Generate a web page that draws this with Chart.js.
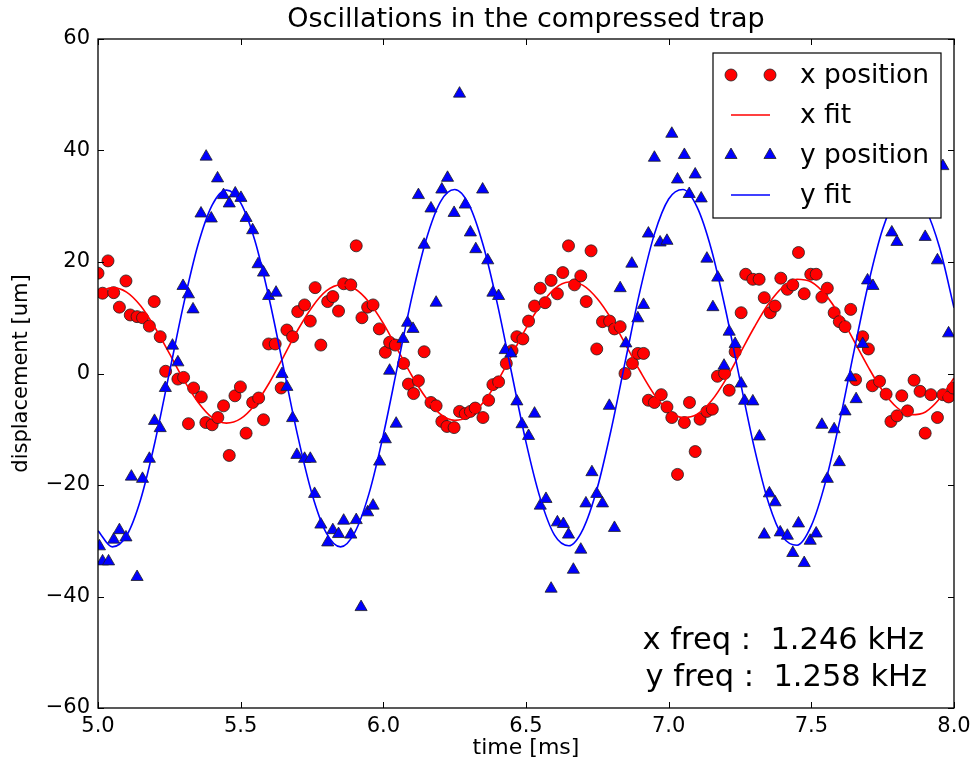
<!DOCTYPE html>
<html>
<head>
<meta charset="utf-8">
<title>Oscillations in the compressed trap</title>
<script src="https://cdn.jsdelivr.net/npm/chart.js@4.4.1/dist/chart.umd.min.js"></script>
<style>
  html, body { margin: 0; padding: 0; background: #fff; }
  #myChart { display: block; }
</style>
</head>
<body>
<canvas id="myChart" width="974" height="761"></canvas>
<script>
// measured x position of the cloud (time in ms, displacement in um)
var xPosTime = [5.000,5.016,5.035,5.055,5.075,5.098,5.113,5.137,5.156,5.180,
  5.197,5.218,5.237,5.280,5.300,5.317,5.335,5.362,5.378,5.400,
  5.420,5.440,5.460,5.480,5.499,5.519,5.542,5.563,5.580,5.598,
  5.621,5.642,5.662,5.682,5.700,5.724,5.744,5.761,5.781,5.805,
  5.823,5.843,5.861,5.886,5.905,5.925,5.945,5.964,5.986,6.007,
  6.022,6.042,6.071,6.088,6.106,6.123,6.143,6.167,6.185,6.205,
  6.223,6.248,6.267,6.287,6.305,6.322,6.349,6.369,6.384,6.404,
  6.431,6.451,6.468,6.489,6.509,6.530,6.550,6.567,6.588,6.610,
  6.629,6.649,6.670,6.692,6.711,6.728,6.748,6.768,6.793,6.810,
  6.830,6.847,6.873,6.892,6.912,6.929,6.950,6.974,6.994,7.011,
  7.031,7.055,7.073,7.093,7.110,7.134,7.153,7.171,7.196,7.212,
  7.233,7.254,7.270,7.295,7.317,7.335,7.356,7.373,7.393,7.416,
  7.435,7.455,7.475,7.498,7.517,7.537,7.556,7.580,7.598,7.618,
  7.638,7.655,7.680,7.700,7.714,7.739,7.762,7.779,7.800,7.817,
  7.837,7.860,7.881,7.899,7.919,7.942,7.961,7.981,7.997];
var xPosVal = [18.0,14.4,20.2,14.5,11.9,16.6,10.5,10.2,10.0,8.5,
  12.9,6.6,0.4,-1.0,-0.7,-9.0,-2.6,-4.2,-8.8,-9.2,
  -7.9,-5.8,-14.7,-4.0,-2.4,-10.7,-5.2,-4.4,-8.3,5.3,
  5.3,-2.6,7.8,6.6,11.1,12.3,9.4,15.4,5.1,12.9,
  13.8,11.2,16.1,15.9,22.9,10.0,11.9,12.3,8.0,3.8,
  5.6,5.1,1.8,-1.9,-3.6,-1.3,3.9,-5.2,-5.8,-8.6,
  -9.5,-9.7,-6.8,-7.2,-6.8,-6.2,-7.9,-4.8,-2.0,-1.5,
  1.8,4.1,6.6,6.2,9.4,12.1,15.3,12.7,16.7,14.3,
  18.1,22.9,15.9,17.5,12.9,22.0,4.4,9.3,9.4,8.0,
  8.4,0.0,1.8,3.6,3.6,-4.8,-5.2,-3.8,-6.0,-7.9,
  -18.1,-8.8,-5.2,-14.0,-8.2,-6.8,-6.4,-0.5,0.0,-3.0,
  3.9,10.9,17.8,16.9,16.9,13.6,10.9,12.1,17.1,15.1,
  15.9,21.7,14.3,17.8,17.8,13.7,15.3,10.9,9.3,8.4,
  11.5,-1.1,6.6,4.4,-2.2,-1.4,-3.7,-8.6,-7.6,-4.0,
  -6.7,-1.2,-3.2,-10.7,-3.8,-7.9,-3.8,-4.2,-2.6];

// measured y position
var yPosTime = [5.005,5.016,5.037,5.055,5.075,5.098,5.117,5.137,5.156,5.180,
  5.198,5.218,5.236,5.261,5.280,5.298,5.317,5.333,5.361,5.379,
  5.397,5.419,5.440,5.460,5.481,5.501,5.519,5.542,5.561,5.580,
  5.598,5.624,5.645,5.662,5.682,5.697,5.724,5.744,5.759,5.781,
  5.805,5.823,5.843,5.861,5.886,5.905,5.922,5.945,5.964,5.987,
  6.007,6.022,6.045,6.069,6.085,6.104,6.123,6.143,6.167,6.185,
  6.205,6.225,6.248,6.267,6.287,6.305,6.324,6.348,6.366,6.384,
  6.404,6.427,6.447,6.468,6.486,6.509,6.530,6.550,6.570,6.588,
  6.610,6.631,6.649,6.666,6.692,6.710,6.731,6.748,6.768,6.792,
  6.810,6.830,6.850,6.871,6.892,6.912,6.929,6.950,6.970,6.994,
  7.011,7.031,7.055,7.072,7.093,7.114,7.134,7.155,7.172,7.194,
  7.212,7.233,7.254,7.266,7.295,7.318,7.335,7.353,7.373,7.391,
  7.416,7.435,7.455,7.475,7.496,7.517,7.537,7.556,7.580,7.598,
  7.618,7.638,7.657,7.680,7.697,7.716,7.782,7.800,7.899,7.942,
  7.961,7.981];
var yPosVal = [-31.0,-33.7,-33.7,-29.8,-28.1,-29.4,-18.5,-36.5,-18.9,-15.3,
  -8.5,-9.8,-2.6,5.0,2.0,15.7,14.2,11.5,28.7,38.9,
  27.8,35.0,32.0,30.5,32.3,31.5,27.9,25.7,19.6,18.1,
  13.9,14.5,-0.1,-2.4,-8.0,-14.6,-15.3,-15.3,-21.6,-27.1,
  -30.3,-28.1,-28.8,-26.4,-28.9,-26.3,-41.9,-24.9,-23.7,-15.8,
  -11.8,0.5,-9.0,6.2,9.1,8.0,32.0,23.1,29.6,12.7,
  33.0,35.1,28.8,50.2,30.3,25.3,22.3,33.0,20.3,14.5,
  13.9,4.2,3.6,-5.0,-9.1,-11.2,-7.2,-23.7,-22.5,-38.6,
  -26.7,-27.0,-28.9,-35.2,-31.6,-23.3,-17.7,-21.6,-23.3,-5.8,
  -27.7,15.3,5.4,19.7,9.9,12.3,25.1,38.7,23.5,23.8,
  43.0,34.8,39.2,32.2,35.7,31.4,20.6,11.9,17.2,1.4,
  7.5,5.3,-1.8,-4.9,-5.0,-11.3,-28.9,-21.5,-23.1,-28.5,
  -29.1,-32.2,-26.9,-34.0,-30.0,-28.7,-9.2,-18.9,-10.0,-15.9,
  -6.8,-0.7,-4.6,5.3,16.7,15.7,25.3,23.6,24.5,20.3,
  37.2,7.2];

// fitted curves, read every 0.05 ms
var fitTime = [5.00,5.05,5.10,5.15,5.20,5.25,5.30,5.35,5.40,5.45,
  5.50,5.55,5.60,5.65,5.70,5.75,5.80,5.85,5.90,5.95,
  6.00,6.05,6.10,6.15,6.20,6.25,6.30,6.35,6.40,6.45,
  6.50,6.55,6.60,6.65,6.70,6.75,6.80,6.85,6.90,6.95,
  7.00,7.05,7.10,7.15,7.20,7.25,7.30,7.35,7.40,7.45,
  7.50,7.55,7.60,7.65,7.70,7.75,7.80,7.85,7.90,7.95,
  8.00];
var xFitVal = [14.4,15.4,14.6,12.1,8.2,3.6,-1.1,-5.1,-7.9,-8.9,
  -8.1,-5.6,-1.7,3.0,7.8,11.9,14.8,15.9,15.2,12.8,
  9.0,4.3,-0.4,-4.4,-7.3,-8.4,-7.7,-5.2,-1.4,3.3,
  8.1,12.2,15.2,16.4,15.8,13.4,9.7,5.1,0.4,-3.8,
  -6.7,-7.9,-7.3,-4.9,-1.1,3.6,8.3,12.5,15.5,16.9,
  16.4,14.1,10.4,5.8,1.1,-3.1,-6.1,-7.4,-6.9,-4.5,
  -0.8];
var yFitVal = [-28.2,-31.1,-29.1,-22.5,-12.2,0.1,12.4,23.0,30.2,32.9,
  30.6,23.8,13.4,1.1,-11.2,-21.6,-28.6,-31.1,-28.5,-21.5,
  -11.0,1.4,13.7,24.0,30.8,33.0,30.3,23.0,12.4,0.0,
  -12.3,-22.4,-29.0,-30.9,-27.9,-20.5,-9.7,2.7,14.9,25.0,
  31.3,33.0,29.8,22.2,11.3,-1.2,-13.3,-23.2,-29.3,-30.8,
  -27.3,-19.4,-8.4,4.1,16.1,25.9,31.8,33.0,29.6,22.5,
  11.8];

var xTicks = [5.0, 5.5, 6.0, 6.5, 7.0, 7.5, 8.0];
var yTicks = [-60, -40, -20, 0, 20, 40, 60];
var freqLines = ['x freq :  1.246 kHz', 'y freq :  1.258 kHz'];

var FONT = "'DejaVu Sans', 'Bitstream Vera Sans', sans-serif";

function pairs(t, v){
  var out = [];
  for(var i=0;i<t.length;i++){
    out.push({x: t[i], y: v[i]});
  }
  return out;
}

function markerPath(ctx, style, x, y, r){
  ctx.beginPath();
  if(style === 'triangle'){
    ctx.moveTo(x, y - r);
    ctx.lineTo(x + r * 0.866, y + r * 0.5);
    ctx.lineTo(x - r * 0.866, y + r * 0.5);
    ctx.closePath();
  } else {
    ctx.arc(x, y, r, 0, Math.PI * 2);
  }
}

// frame, inward ticks, title, legend box and the frequency note
var decor = {
  id: 'decor',
  afterDatasetsDraw: function(chart){
    var ctx = chart.ctx;
    var a = chart.chartArea;
    var xs = chart.scales.x;
    var ys = chart.scales.y;
    ctx.save();

    ctx.strokeStyle = '#000';
    ctx.lineWidth = 1;
    ctx.beginPath();
    xTicks.forEach(function(v){
      var px = Math.round(xs.getPixelForValue(v)) + 0.5;
      ctx.moveTo(px, a.bottom); ctx.lineTo(px, a.bottom - 6);
      ctx.moveTo(px, a.top); ctx.lineTo(px, a.top + 6);
    });
    yTicks.forEach(function(v){
      var py = Math.round(ys.getPixelForValue(v)) + 0.5;
      ctx.moveTo(a.left, py); ctx.lineTo(a.left + 6, py);
      ctx.moveTo(a.right, py); ctx.lineTo(a.right - 6, py);
    });
    ctx.stroke();

    ctx.lineWidth = 1.3;
    ctx.strokeRect(a.left, a.top, a.right - a.left, a.bottom - a.top);

    // title
    ctx.fillStyle = '#000';
    ctx.font = '27px ' + FONT;
    ctx.textAlign = 'center';
    ctx.textBaseline = 'middle';
    ctx.fillText('Oscillations in the compressed trap', (a.left + a.right) / 2, 20);

    // legend
    var bx = a.right - 241, by = a.top + 14, bw = 228, bh = 165;
    ctx.fillStyle = '#fff';
    ctx.fillRect(bx, by, bw, bh);
    ctx.lineWidth = 1.2;
    ctx.strokeStyle = '#000';
    ctx.strokeRect(bx, by, bw, bh);
    ctx.font = '26.5px ' + FONT;
    ctx.textAlign = 'left';
    chart.data.datasets.forEach(function(ds, i){
      var rowY = by + 22 + i * 40;
      var x1 = bx + 18, x2 = bx + 57;
      if(ds.showLine){
        ctx.strokeStyle = ds.borderColor;
        ctx.lineWidth = ds.borderWidth;
        ctx.beginPath();
        ctx.moveTo(x1, rowY);
        ctx.lineTo(x2, rowY);
        ctx.stroke();
      } else {
        [x1, x2].forEach(function(mx){
          markerPath(ctx, ds.pointStyle, mx, rowY, ds.pointRadius);
          ctx.fillStyle = ds.pointBackgroundColor;
          ctx.fill();
          ctx.strokeStyle = ds.pointBorderColor;
          ctx.lineWidth = ds.pointBorderWidth;
          ctx.stroke();
        });
      }
      ctx.fillStyle = '#000';
      ctx.fillText(ds.label, bx + 87, rowY + 1);
    });

    // fitted frequencies
    ctx.font = '30.5px ' + FONT;
    ctx.textAlign = 'right';
    ctx.fillStyle = '#000';
    ctx.fillText(freqLines[0], a.right - 30, a.bottom - 67);
    ctx.fillText(freqLines[1], a.right - 27, a.bottom - 30);

    ctx.restore();
  }
};

var ctx = document.getElementById('myChart').getContext('2d');
var myChart = new Chart(ctx, {
  type: 'scatter',
  data: {
    datasets: [{
      label: 'x position',
      data: pairs(xPosTime, xPosVal),
      showLine: false,
      pointStyle: 'circle',
      pointRadius: 6,
      pointBackgroundColor: '#ff0000',
      pointBorderColor: '#202020',
      pointBorderWidth: 0.8,
      order: 4,
      clip: 0
    }, {
      label: 'x fit',
      data: pairs(fitTime, xFitVal),
      showLine: true,
      pointRadius: 0,
      borderColor: '#ff0000',
      borderWidth: 1.6,
      cubicInterpolationMode: 'monotone',
      order: 3,
      clip: 0
    }, {
      label: 'y position',
      data: pairs(yPosTime, yPosVal),
      showLine: false,
      pointStyle: 'triangle',
      pointRadius: 7,
      pointBackgroundColor: '#0000ff',
      pointBorderColor: '#202020',
      pointBorderWidth: 0.8,
      order: 2,
      clip: 0
    }, {
      label: 'y fit',
      data: pairs(fitTime, yFitVal),
      showLine: true,
      pointRadius: 0,
      borderColor: '#0000ff',
      borderWidth: 1.6,
      cubicInterpolationMode: 'monotone',
      order: 1,
      clip: 0
    }]
  },
  options: {
    responsive: false,
    animation: false,
    events: [],
    layout: { padding: { top: 39, right: 20, left: 0, bottom: 0 } },
    plugins: {
      legend: { display: false },
      tooltip: { enabled: false },
      title: { display: false }
    },
    scales: {
      x: {
        type: 'linear',
        min: 5,
        max: 8,
        afterBuildTicks: function(scale){
          scale.ticks = xTicks.map(function(v){ return {value: v}; });
        },
        afterFit: function(scale){
          scale.height = 53;
          scale.paddingLeft = 0;
          scale.paddingRight = 0;
        },
        grid: { display: false, drawTicks: false },
        border: { display: false },
        ticks: {
          color: '#000',
          font: { family: FONT, size: 21 },
          padding: 6,
          maxRotation: 0,
          autoSkip: false,
          callback: function(v){ return Number(v).toFixed(1); }
        },
        title: {
          display: true,
          text: 'time [ms]',
          color: '#000',
          font: { family: FONT, size: 22 },
          padding: { top: 0, bottom: 0 }
        }
      },
      y: {
        type: 'linear',
        min: -60,
        max: 60,
        afterBuildTicks: function(scale){
          scale.ticks = yTicks.map(function(v){ return {value: v}; });
        },
        afterFit: function(scale){
          scale.width = 98;
          scale.paddingTop = 0;
          scale.paddingBottom = 0;
        },
        grid: { display: false, drawTicks: false },
        border: { display: false },
        ticks: {
          color: '#000',
          font: { family: FONT, size: 21 },
          padding: 8,
          autoSkip: false,
          callback: function(v){ return String(v).replace('-', '\u2212'); }
        },
        title: {
          display: true,
          text: 'displacement [um]',
          color: '#000',
          font: { family: FONT, size: 21 },
          padding: { top: 9, bottom: 0 }
        }
      }
    }
  },
  plugins: [decor]
});
</script>
</body>
</html>
